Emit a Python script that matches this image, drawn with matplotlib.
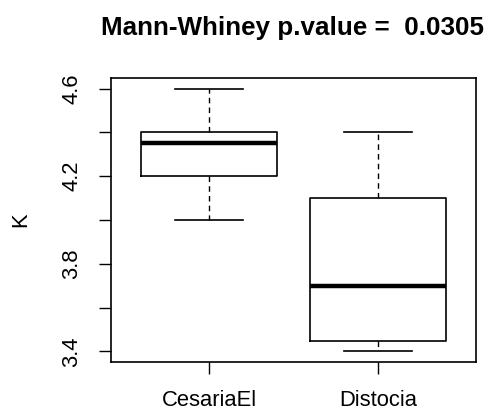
import matplotlib
matplotlib.use("Agg")
import matplotlib.pyplot as plt

# boxplot summary (R-style boxplot)
groups = ["CesariaEl", "Distocia"]
whisker_lo = [4.0, 3.4]
q1 = [4.2, 3.45]
median = [4.35, 3.7]
q3 = [4.4, 4.1]
whisker_hi = [4.6, 4.4]
p_value = "0.0305"

plt.rcParams["font.family"] = ["Liberation Sans", "DejaVu Sans"]

fig = plt.figure(figsize=(4.9, 4.12), dpi=100)
ax = fig.add_axes([0.2265, 0.1214, 0.745, 0.6893])

stats = []
for i, name in enumerate(groups):
    stats.append(dict(label=name, whislo=whisker_lo[i], q1=q1[i], med=median[i],
                      q3=q3[i], whishi=whisker_hi[i], fliers=[]))

ax.bxp(stats, positions=[1, 2], widths=0.8, showfliers=False,
       boxprops=dict(color="black", linewidth=1.2),
       medianprops=dict(color="black", linewidth=3.2, solid_capstyle="butt"),
       whiskerprops=dict(color="black", linewidth=1.0, linestyle=(0, (4, 3))),
       capprops=dict(color="black", linewidth=1.2), capwidths=0.4)

ax.set_xlim(0.42, 2.58)
ax.set_ylim(3.352, 4.648)

yt = [3.4, 3.6, 3.8, 4.0, 4.2, 4.4, 4.6]
ax.set_yticks(yt)
ax.set_yticklabels(["3.4", "", "3.8", "", "4.2", "", "4.6"], rotation=90, va="center")
ax.tick_params(axis="both", length=8.5, width=1.0, labelsize=15.8, color="black")
ax.tick_params(axis="y", pad=12)
ax.tick_params(axis="x", pad=12)
for s in ax.spines.values():
    s.set_linewidth(1.2)

ax.set_ylabel("K", fontsize=15.8, labelpad=22)
fig.suptitle("Mann-Whiney p.value =  " + p_value, x=0.597, y=0.962,
             fontsize=18.7, fontweight="bold")

fig.savefig("out.png", dpi=100)
